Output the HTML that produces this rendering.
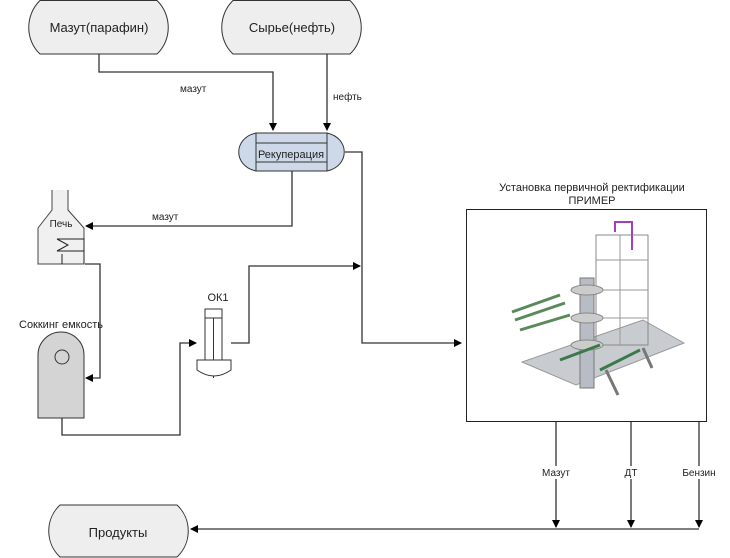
<!DOCTYPE html>
<html><head><meta charset="utf-8"><style>
html,body{margin:0;padding:0;background:#fff;}
svg{display:block;font-family:"Liberation Sans",sans-serif;}
</style></head><body>
<svg width="730" height="558" viewBox="0 0 730 558" xmlns="http://www.w3.org/2000/svg">
<defs><marker id="a" markerWidth="8" markerHeight="8" refX="7" refY="4" orient="auto" markerUnits="userSpaceOnUse"><path d="M0,0 L8,4 L0,8 z" fill="#000"/></marker></defs>
<g fill="#eeeeee" stroke="#333" stroke-width="1">
<path d="M40,0.5 H157 C172,15 172,40 157,54 H40 C25,40 25,15 40,0.5 Z"/>
<path d="M233,0.5 H350 C365,15 365,40 350,54 H233 C218,40 218,15 233,0.5 Z"/>
<path d="M60,505 H177 C192,519 192,543 177,557 H60 C45,543 45,519 60,505 Z"/>
</g>
<g font-size="13" fill="#222" text-anchor="middle">
<text x="99" y="32">Мазут(парафин)</text>
<text x="292" y="32">Сырье(нефть)</text>
<text x="118" y="537">Продукты</text>
</g>
<g fill="none" stroke="#333" stroke-width="1.3">
<path d="M99,54 V72 H273 V130" marker-end="url(#a)"/>
<path d="M327,54 V130" marker-end="url(#a)"/>
<path d="M292,171 V226 H86" marker-end="url(#a)"/>
<path d="M345,152 H362 V343 H461" marker-end="url(#a)"/>
<path d="M85,264 H100 V378 H86" marker-end="url(#a)"/>
<path d="M62,364 V435 H180 V343 H196" marker-end="url(#a)"/>
<path d="M231,343 H249 V266 H360" marker-end="url(#a)"/>
<path d="M556,422 V527" marker-end="url(#a)"/>
<path d="M631,422 V527" marker-end="url(#a)"/>
<path d="M699,422 V527" marker-end="url(#a)"/>
<path d="M699,529 H191" marker-end="url(#a)"/>
</g>
<g font-size="10" fill="#222">
<text x="180" y="92">мазут</text>
<text x="333" y="100">нефть</text>
<text x="152" y="220">мазут</text>
</g>
<g font-size="10" fill="#222" text-anchor="middle">
<rect x="538" y="466" width="36" height="13" fill="#fff"/><text x="556" y="476">Мазут</text>
<rect x="622" y="466" width="18" height="13" fill="#fff"/><text x="631" y="476">ДТ</text>
<rect x="676" y="466" width="46" height="13" fill="#fff"/><text x="699" y="476">Бензин</text>
</g>
<!-- recuperator -->
<path d="M256,133 H327 C350,138 350,166 327,171 H256 C233,166 233,138 256,133 Z" fill="#cdd9e8" stroke="#333"/>
<g stroke="#333" fill="none">
<line x1="256" y1="133" x2="256" y2="171"/><line x1="327" y1="133" x2="327" y2="171"/>
<line x1="256" y1="143" x2="327" y2="143"/><line x1="256" y1="162" x2="327" y2="162"/>
</g>
<text x="291" y="158" font-size="11" text-anchor="middle" fill="#222">Рекуперация</text>
<!-- furnace -->
<path d="M52,190 V210 L38,228 V264 H84 V228 L68,210 V190" fill="#f0f0f0" stroke="#444"/>
<text x="61" y="227" font-size="10" text-anchor="middle" fill="#222">Печь</text>
<g stroke="#222" fill="none"><path d="M57,239 H84 M57,239 L68,245 L57,251 H84 M84,238 V264 M62,264 V254"/></g>
<!-- soaking tank -->
<text x="61" y="328" font-size="11" text-anchor="middle" fill="#222">Соккинг емкость</text>
<path d="M38,418 V355 A23,23 0 0 1 84,355 V418 Z" fill="#d4d4d4" stroke="#333"/>
<circle cx="62" cy="357" r="7" fill="#d4d4d4" stroke="#333"/>
<!-- OK1 -->
<text x="218" y="301" font-size="11" text-anchor="middle" fill="#222">ОК1</text>
<g fill="#fff" stroke="#333">
<rect x="205" y="309" width="17" height="51"/><line x1="205" y1="318" x2="222" y2="318"/><line x1="213.5" y1="318" x2="213.5" y2="378"/>
<path d="M197,360 H231 V370 Q214,382 197,370 Z"/>
</g>
<!-- unit -->
<text x="592" y="191" font-size="11" text-anchor="middle" fill="#222">Установка первичной ректификации</text>
<text x="592" y="204" font-size="11" text-anchor="middle" fill="#222">ПРИМЕР</text>
<rect x="466.5" y="209.5" width="240" height="212" fill="#fff" stroke="#222"/>
<g stroke-width="1">
<polygon points="522,362 576,385 684,343 643,320" fill="#c8ccd0" stroke="#999"/>
<rect x="596" y="235" width="52" height="110" fill="none" stroke="#888"/>
<g stroke="#999"><line x1="596" y1="260" x2="648" y2="260"/><line x1="596" y1="290" x2="648" y2="290"/><line x1="596" y1="318" x2="648" y2="318"/><line x1="620" y1="235" x2="620" y2="345"/></g>
<rect x="580" y="278" width="14" height="110" fill="#b8bcc4" stroke="#777"/>
<ellipse cx="587" cy="290" rx="16" ry="5" fill="#ccc" stroke="#888"/>
<ellipse cx="587" cy="318" rx="16" ry="5" fill="#ccc" stroke="#888"/>
<ellipse cx="587" cy="345" rx="16" ry="5" fill="#ccc" stroke="#888"/>
<path d="M615,232 V222 H632 V250" stroke="#a040c0" fill="none" stroke-width="2"/>
<path d="M512,312 L560,295 M515,320 L565,303 M520,330 L570,315" stroke="#5a8a5a" stroke-width="3"/>
<path d="M560,360 L600,345 M600,370 L640,350" stroke="#3a7a4a" stroke-width="3"/>
<path d="M606,370 L618,395 M643,348 L652,368" stroke="#777" stroke-width="3"/>
</g>
</svg>
</body></html>
